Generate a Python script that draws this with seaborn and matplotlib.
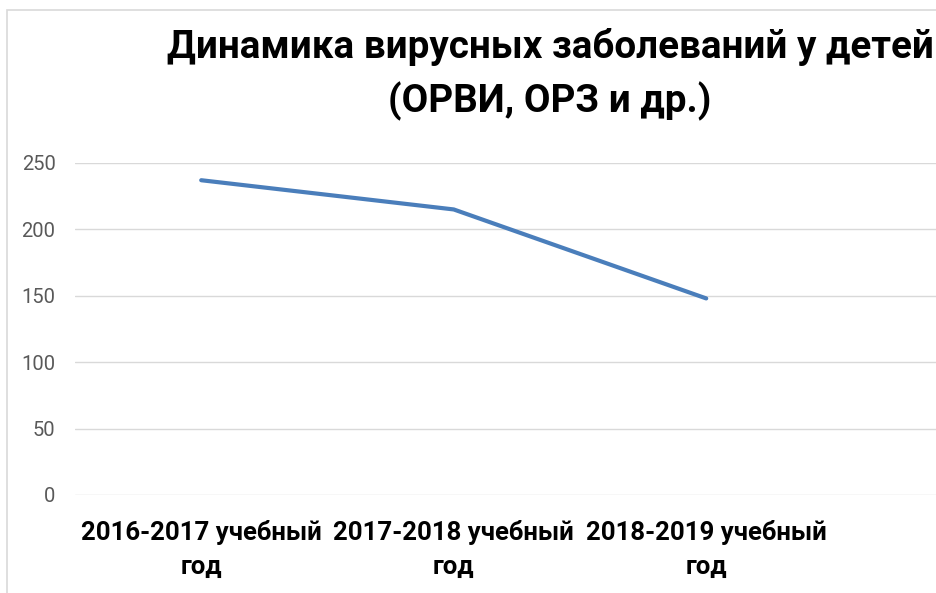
import matplotlib
matplotlib.use("Agg")
import matplotlib.pyplot as plt
import pandas as pd
import seaborn as sns
from matplotlib.patches import Rectangle

periods = ["2016-2017 учебный\nгод", "2017-2018 учебный\nгод", "2018-2019 учебный\nгод"]
cases = [237, 215, 148]
y_ticks = [0, 50, 100, 150, 200, 250]

df = pd.DataFrame({"period": periods, "cases": cases})

sns.set_style("white")
plt.rcParams["font.family"] = ["Roboto", "DejaVu Sans"]
plt.rcParams["text.color"] = "black"

fig = plt.figure(figsize=(9.37, 5.93), dpi=100)
ax = fig.add_axes([0.080, 0.1653, 0.920, 0.5599])

sns.lineplot(data=df, x="period", y="cases", ax=ax, sort=False,
             color="#4a7ebb", linewidth=3.0, solid_capstyle="round")

ax.set_ylim(0, 250)
ax.set_xlim(-0.5, 2.914)
ax.set_yticks(y_ticks)
ax.yaxis.grid(True, color="#d9d9d9", linewidth=1.0)
ax.set_axisbelow(True)
for s in ax.spines.values():
    s.set_visible(False)
ax.tick_params(axis="y", length=0, pad=14, labelsize=14.5, labelcolor="#595959")
ax.tick_params(axis="x", length=0, pad=18, labelsize=18.5, labelcolor="black")
for lab in ax.get_xticklabels():
    lab.set_fontweight("bold")
    lab.set_linespacing(1.55)
ax.set_xlabel("")
ax.set_ylabel("")

# chart frame, partly visible on the left and top
fig.patches.append(Rectangle((7 / 937, -0.1), 1.2, (593 - 10) / 593 + 0.1,
                             transform=fig.transFigure, fill=False,
                             edgecolor="#d9d9d9", linewidth=1.2))

fig.text(0.587, 1 - 47 / 593, "Динамика вирусных заболеваний у детей",
         ha="center", va="center", fontsize=27.8, fontweight="bold", color="black")
fig.text(0.587, 1 - 101 / 593, "(ОРВИ, ОРЗ и др.)",
         ha="center", va="center", fontsize=27.8, fontweight="bold", color="black")

fig.savefig("out.png", dpi=100)
